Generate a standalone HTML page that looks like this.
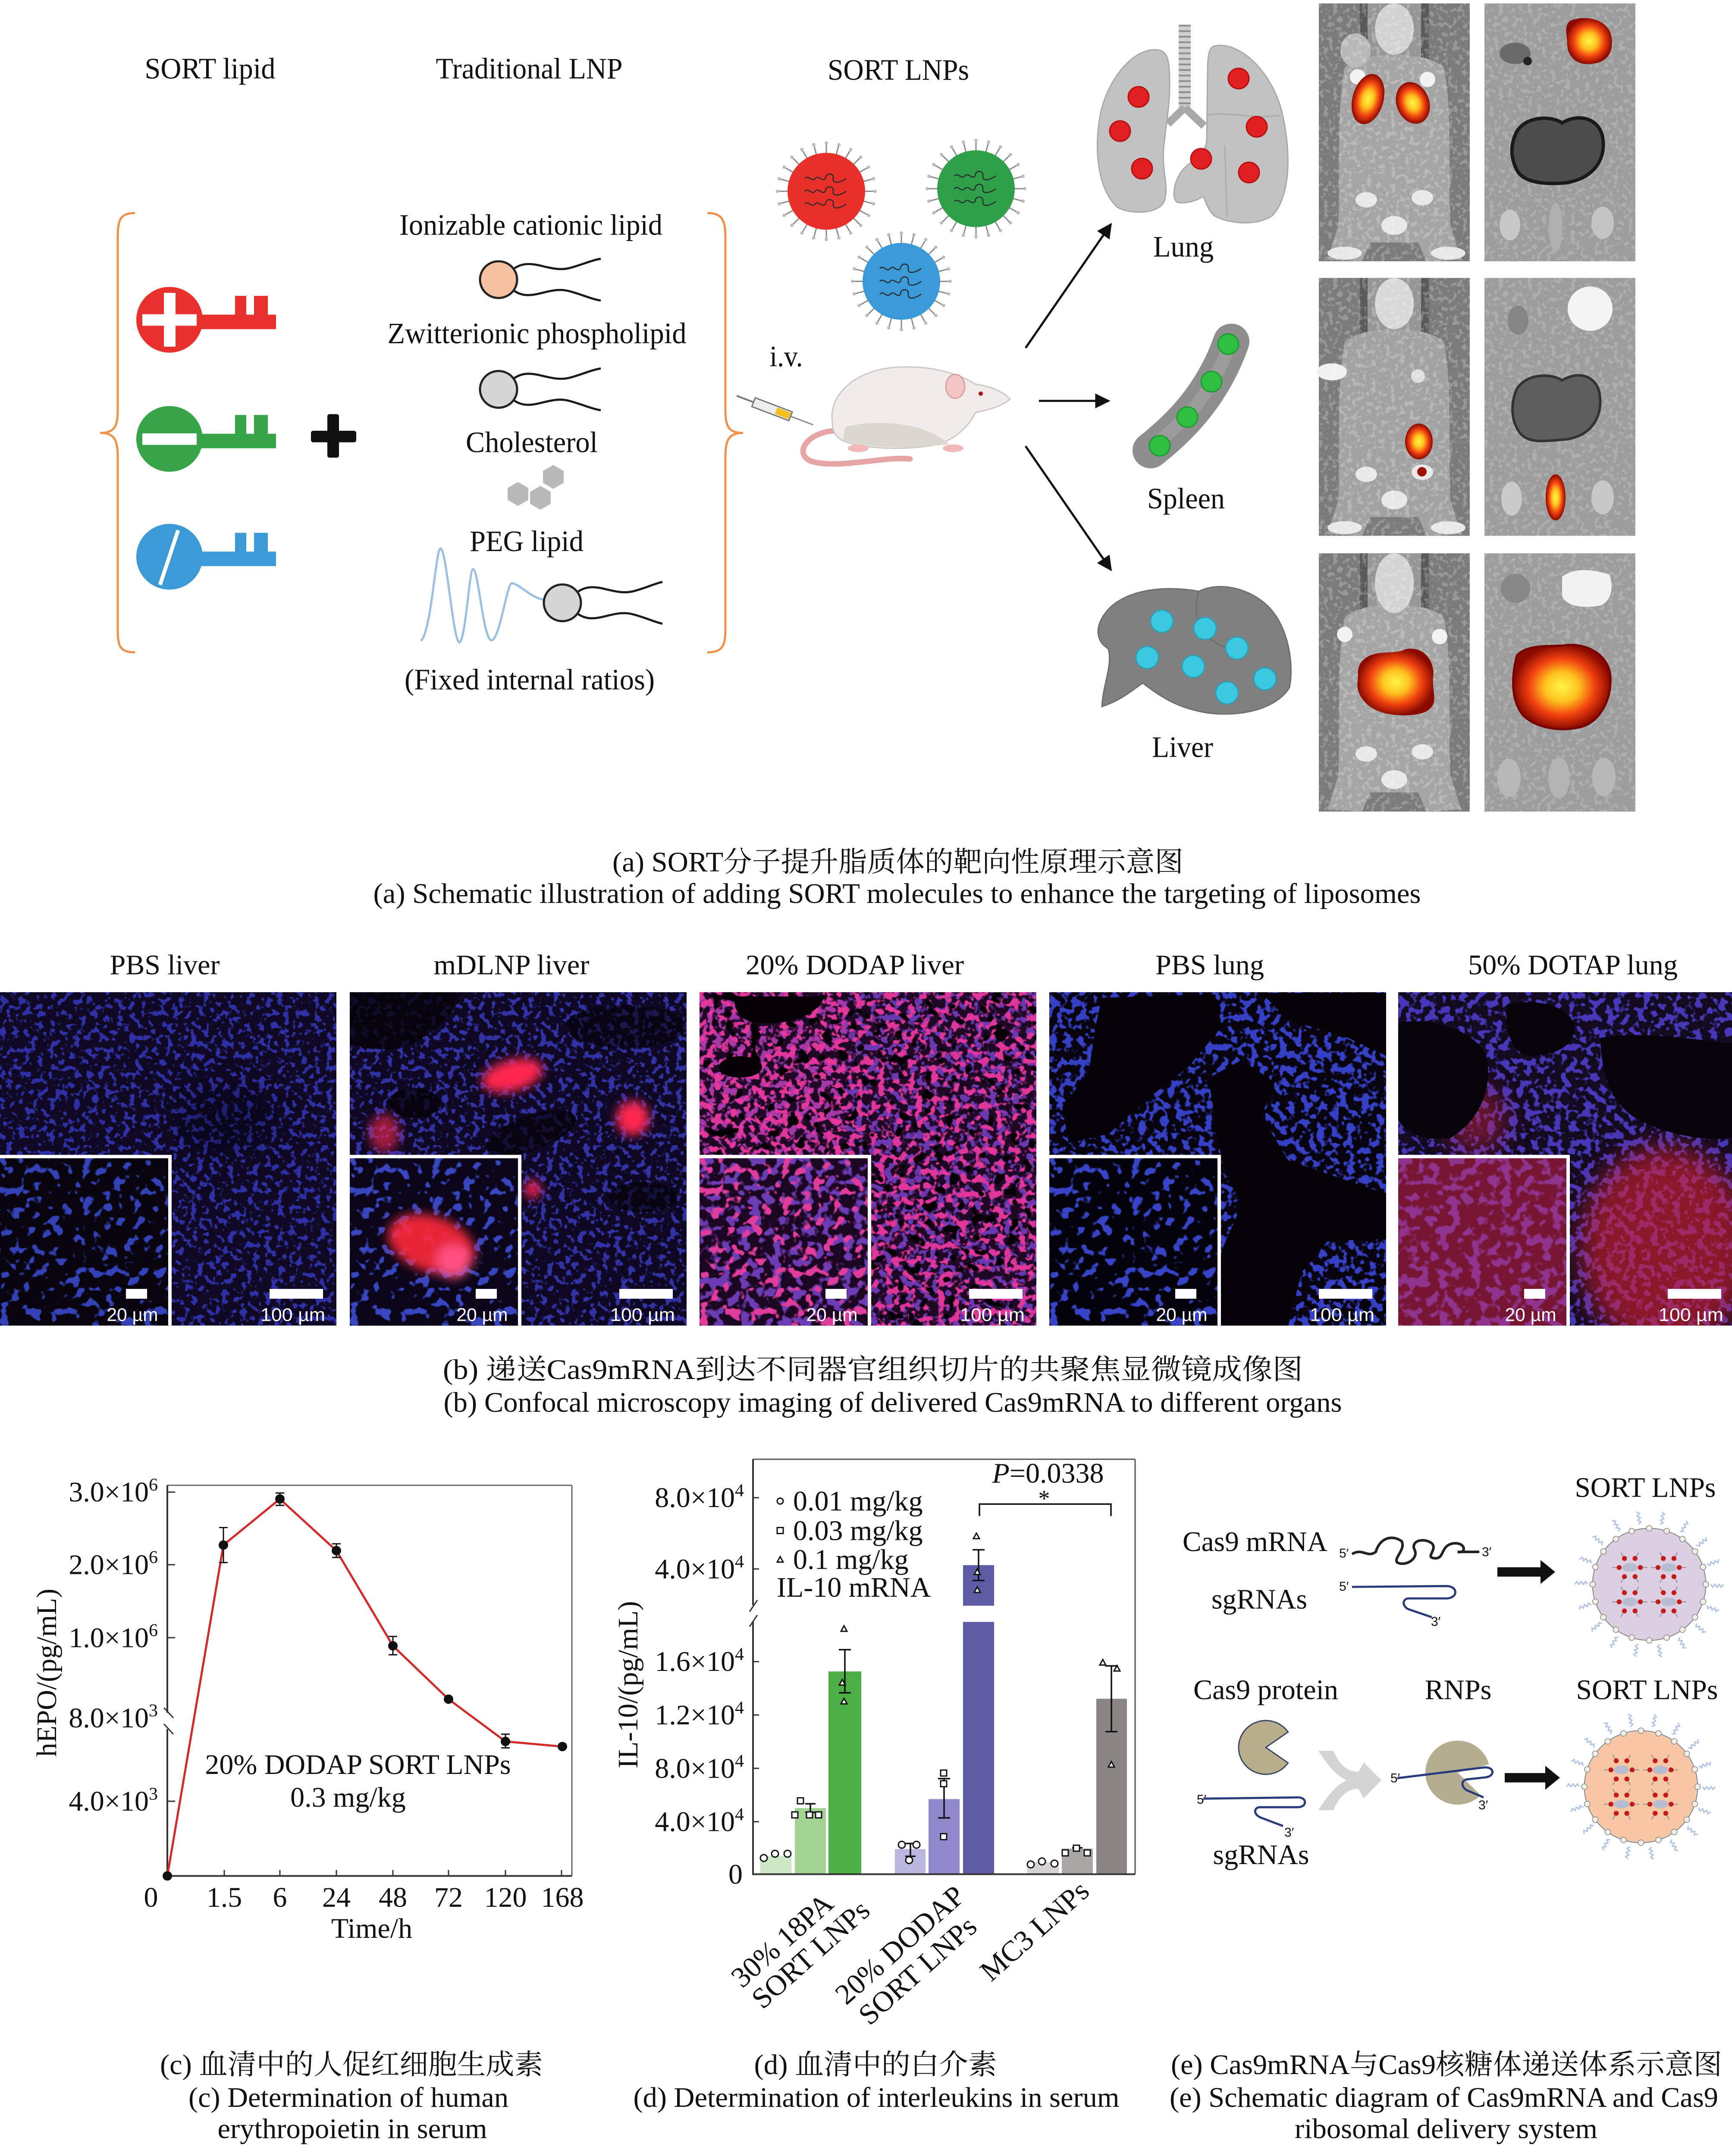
<!DOCTYPE html>
<html><head><meta charset="utf-8">
<style>
html,body{margin:0;padding:0;background:#fff;width:100%;height:100%;overflow:hidden;}
svg.root{display:block;width:100%;height:100%;}
text{font-family:"Liberation Serif","Noto Serif CJK SC",serif;fill:#111;}
</style></head><body>
<svg class="root" xmlns="http://www.w3.org/2000/svg" viewBox="0 0 4016 5050" preserveAspectRatio="none">
<defs>
<filter id="nS" x="0" y="0" width="1" height="1" color-interpolation-filters="sRGB">
<feTurbulence type="fractalNoise" baseFrequency="0.07" numOctaves="2" seed="3" result="t"/>
<feColorMatrix in="t" type="matrix" values="0 0 0 0 0 0 0 0 0 0 0 0 0 0 0 10 0 0 0 -5.35" result="m"/>
<feComposite in="SourceGraphic" in2="m" operator="in"/>
</filter>
<filter id="nA" x="0" y="0" width="1" height="1" color-interpolation-filters="sRGB">
<feTurbulence type="fractalNoise" baseFrequency="0.058" numOctaves="2" seed="3" result="t"/>
<feColorMatrix in="t" type="matrix" values="0 0 0 0 0 0 0 0 0 0 0 0 0 0 0 10 0 0 0 -4.95" result="m"/>
<feComposite in="SourceGraphic" in2="m" operator="in"/>
</filter>
<filter id="nB" x="0" y="0" width="1" height="1" color-interpolation-filters="sRGB">
<feTurbulence type="fractalNoise" baseFrequency="0.058" numOctaves="2" seed="11" result="t"/>
<feColorMatrix in="t" type="matrix" values="0 0 0 0 0 0 0 0 0 0 0 0 0 0 0 10 0 0 0 -5.2" result="m"/>
<feComposite in="SourceGraphic" in2="m" operator="in"/>
</filter>
<filter id="nL" x="0" y="0" width="1" height="1" color-interpolation-filters="sRGB">
<feTurbulence type="fractalNoise" baseFrequency="0.042" numOctaves="2" seed="5" result="t"/>
<feColorMatrix in="t" type="matrix" values="0 0 0 0 0 0 0 0 0 0 0 0 0 0 0 12 0 0 0 -6.8" result="m"/>
<feComposite in="SourceGraphic" in2="m" operator="in"/>
</filter>
<filter id="nL2" x="0" y="0" width="1" height="1" color-interpolation-filters="sRGB">
<feTurbulence type="fractalNoise" baseFrequency="0.042" numOctaves="2" seed="8" result="t"/>
<feColorMatrix in="t" type="matrix" values="0 0 0 0 0 0 0 0 0 0 0 0 0 0 0 10 0 0 0 -5.0" result="m"/>
<feComposite in="SourceGraphic" in2="m" operator="in"/>
</filter>
<filter id="nH" x="0" y="0" width="1" height="1" color-interpolation-filters="sRGB">
<feTurbulence type="fractalNoise" baseFrequency="0.035" numOctaves="2" seed="6" result="t"/>
<feColorMatrix in="t" type="matrix" values="0 0 0 0 0 0 0 0 0 0 0 0 0 0 0 12 0 0 0 -7.3" result="m"/>
<feComposite in="SourceGraphic" in2="m" operator="in"/>
</filter>
<filter id="gr" x="0" y="0" width="1" height="1" color-interpolation-filters="sRGB">
<feTurbulence type="fractalNoise" baseFrequency="0.09" numOctaves="2" seed="4" result="t"/>
<feColorMatrix in="t" type="matrix" values="0 0 0 0 0 0 0 0 0 0 0 0 0 0 0 8 0 0 0 -4.2" result="m"/>
<feComposite in="SourceGraphic" in2="m" operator="in"/>
</filter>
<filter id="b12" x="-50%" y="-50%" width="200%" height="200%"><feGaussianBlur stdDeviation="12"/></filter>
<filter id="b30" x="-50%" y="-50%" width="200%" height="200%"><feGaussianBlur stdDeviation="30"/></filter>
<radialGradient id="heat"><stop offset="0" stop-color="#fff64a"/><stop offset="0.35" stop-color="#ffc21e"/><stop offset="0.68" stop-color="#f04010"/><stop offset="1" stop-color="#8a0a00"/></radialGradient>
<marker id="ah" viewBox="0 0 10 10" refX="9" refY="5" markerWidth="7" markerHeight="7" orient="auto"><path d="M0,0 L10,5 L0,10 z" fill="#111"/></marker>
<g id="spk1"><line x1="0" y1="-88" x2="0" y2="-112" stroke="#8a8a8a" stroke-width="3"/><circle cy="-113" r="4" fill="#bdbdbd"/></g>
<g id="spikes">
<use href="#spk1"/><use href="#spk1" transform="rotate(15)"/><use href="#spk1" transform="rotate(30)"/><use href="#spk1" transform="rotate(45)"/><use href="#spk1" transform="rotate(60)"/><use href="#spk1" transform="rotate(75)"/><use href="#spk1" transform="rotate(90)"/><use href="#spk1" transform="rotate(105)"/><use href="#spk1" transform="rotate(120)"/><use href="#spk1" transform="rotate(135)"/><use href="#spk1" transform="rotate(150)"/><use href="#spk1" transform="rotate(165)"/><use href="#spk1" transform="rotate(180)"/><use href="#spk1" transform="rotate(195)"/><use href="#spk1" transform="rotate(210)"/><use href="#spk1" transform="rotate(225)"/><use href="#spk1" transform="rotate(240)"/><use href="#spk1" transform="rotate(255)"/><use href="#spk1" transform="rotate(270)"/><use href="#spk1" transform="rotate(285)"/><use href="#spk1" transform="rotate(300)"/><use href="#spk1" transform="rotate(315)"/><use href="#spk1" transform="rotate(330)"/><use href="#spk1" transform="rotate(345)"/>
</g>
<g id="rnaIn" fill="none" stroke="#2a2a2a" stroke-width="2.5">
<path d="M-50,-30 c8,-10 16,10 24,0 s16,10 24,0 c0,-14 20,-14 18,0 s16,10 30,0"/>
<path d="M-50,0 c8,-10 16,10 24,0 s16,10 24,0 c0,-14 20,-14 18,0 s16,10 30,0"/>
<path d="M-50,30 c8,-10 16,10 24,0 s16,10 24,0 c0,-14 20,-14 18,0 s16,10 30,0"/>
</g>
<g id="eSp"><path d="M0,-174 l8,-6 l-8,-6 l8,-6 l-8,-6 l8,-6 l-8,-6" fill="none" stroke="#b4c6e2" stroke-width="4"/></g>
<g id="eBd"><circle cy="-160" r="8" fill="#f2eee8" stroke="#8c8c8c" stroke-width="2"/></g>
<g id="eShell">
<circle r="160" fill="none" stroke="#8e8e8e" stroke-width="3"/>
<use href="#eSp" transform="rotate(10)"/><use href="#eSp" transform="rotate(30)"/><use href="#eSp" transform="rotate(50)"/><use href="#eSp" transform="rotate(70)"/><use href="#eSp" transform="rotate(90)"/><use href="#eSp" transform="rotate(110)"/><use href="#eSp" transform="rotate(130)"/><use href="#eSp" transform="rotate(150)"/><use href="#eSp" transform="rotate(170)"/><use href="#eSp" transform="rotate(190)"/><use href="#eSp" transform="rotate(210)"/><use href="#eSp" transform="rotate(230)"/><use href="#eSp" transform="rotate(250)"/><use href="#eSp" transform="rotate(270)"/><use href="#eSp" transform="rotate(290)"/><use href="#eSp" transform="rotate(310)"/><use href="#eSp" transform="rotate(330)"/><use href="#eSp" transform="rotate(350)"/>
<use href="#eBd"/><use href="#eBd" transform="rotate(18)"/><use href="#eBd" transform="rotate(36)"/><use href="#eBd" transform="rotate(54)"/><use href="#eBd" transform="rotate(72)"/><use href="#eBd" transform="rotate(90)"/><use href="#eBd" transform="rotate(108)"/><use href="#eBd" transform="rotate(126)"/><use href="#eBd" transform="rotate(144)"/><use href="#eBd" transform="rotate(162)"/><use href="#eBd" transform="rotate(180)"/><use href="#eBd" transform="rotate(198)"/><use href="#eBd" transform="rotate(216)"/><use href="#eBd" transform="rotate(234)"/><use href="#eBd" transform="rotate(252)"/><use href="#eBd" transform="rotate(270)"/><use href="#eBd" transform="rotate(288)"/><use href="#eBd" transform="rotate(306)"/><use href="#eBd" transform="rotate(324)"/><use href="#eBd" transform="rotate(342)"/>
</g>
<g id="eCl">
<g stroke="#8f8f9c" stroke-width="2.5"><line x1="30" y1="0" x2="50" y2="0"/><line x1="-30" y1="0" x2="-50" y2="0"/><line x1="15" y1="26" x2="25" y2="43"/><line x1="-15" y1="26" x2="-25" y2="43"/><line x1="15" y1="-26" x2="25" y2="-43"/><line x1="-15" y1="-26" x2="-25" y2="-43"/></g>
<ellipse rx="22" ry="12" fill="#b8bcd0"/>
<g fill="#c41a1a"><circle cx="30" cy="0" r="7"/><circle cx="15" cy="26" r="7"/><circle cx="-15" cy="26" r="7"/><circle cx="-30" cy="0" r="7"/><circle cx="-15" cy="-26" r="7"/><circle cx="15" cy="-26" r="7"/></g>
</g>
</defs>
<rect width="4016" height="5050" fill="#fff"/>

<!-- ================= PART (a) ================= -->
<g font-size="70" text-anchor="middle">
<text x="487" y="184" textLength="303" lengthAdjust="spacingAndGlyphs">SORT lipid</text>
<text x="1227" y="184" textLength="433" lengthAdjust="spacingAndGlyphs">Traditional LNP</text>
<text x="2083" y="187" textLength="328" lengthAdjust="spacingAndGlyphs">SORT LNPs</text>
<text x="1231" y="550" textLength="610" lengthAdjust="spacingAndGlyphs">Ionizable cationic lipid</text>
<text x="1245" y="804" textLength="693" lengthAdjust="spacingAndGlyphs">Zwitterionic phospholipid</text>
<text x="1233" y="1059" textLength="306" lengthAdjust="spacingAndGlyphs">Cholesterol</text>
<text x="1221" y="1291" textLength="264" lengthAdjust="spacingAndGlyphs">PEG lipid</text>
<text x="1228" y="1615" textLength="580" lengthAdjust="spacingAndGlyphs">(Fixed internal ratios)</text>
<text x="1823" y="858" textLength="77" lengthAdjust="spacingAndGlyphs">i.v.</text>
<text x="2744" y="601" textLength="140" lengthAdjust="spacingAndGlyphs">Lung</text>
<text x="2750" y="1191" textLength="180" lengthAdjust="spacingAndGlyphs">Spleen</text>
<text x="2742" y="1773" textLength="142" lengthAdjust="spacingAndGlyphs">Liver</text>
</g>

<path d="M313,499 C275,499 273,520 273,560 L273,960 C273,1000 265,1014 232,1014 C265,1014 273,1030 273,1070 L273,1470 C273,1510 275,1528 313,1528" fill="none" stroke="#f0914a" stroke-width="5"/>
<path d="M1640,499 C1678,499 1682,520 1682,560 L1682,960 C1682,1000 1690,1014 1723,1014 C1690,1014 1682,1030 1682,1070 L1682,1470 C1682,1510 1678,1528 1640,1528" fill="none" stroke="#f0914a" stroke-width="5"/>

<g transform="translate(393,749)" fill="#e8302c">
<circle r="77"/><rect x="50" y="-12" width="197" height="34"/><rect x="152" y="-56" width="26" height="50"/><rect x="196" y="-56" width="32" height="50"/>
<rect x="-63" y="-13" width="126" height="27" fill="#fff"/><rect x="-13" y="-63" width="27" height="126" fill="#fff"/>
</g>
<g transform="translate(393,1028)" fill="#35a548">
<circle r="77"/><rect x="50" y="-12" width="197" height="34"/><rect x="152" y="-56" width="26" height="50"/><rect x="196" y="-56" width="32" height="50"/>
<rect x="-63" y="-13" width="126" height="27" fill="#fff"/>
</g>
<g transform="translate(393,1304)" fill="#3b9ad6">
<circle r="77"/><rect x="50" y="-12" width="197" height="34"/><rect x="152" y="-56" width="26" height="50"/><rect x="196" y="-56" width="32" height="50"/>
<line x1="-22" y1="66" x2="20" y2="-62" stroke="#fff" stroke-width="9"/>
</g>
<g fill="#111"><rect x="721" y="1009" width="105" height="27" rx="5"/><rect x="759" y="970" width="27" height="102" rx="5"/></g>

<g fill="none" stroke="#1a1a1a" stroke-width="5">
<path d="M1188,632 C1230,598 1270,640 1320,628 C1350,620 1370,610 1393,606"/>
<path d="M1188,678 C1230,712 1270,668 1320,682 C1350,690 1370,700 1393,704"/>
<path d="M1188,889 C1230,855 1270,897 1320,885 C1350,877 1370,867 1393,863"/>
<path d="M1188,935 C1230,969 1270,925 1320,939 C1350,947 1370,957 1393,961"/>
<path d="M1336,1389 C1378,1355 1418,1397 1468,1385 C1498,1377 1518,1367 1536,1363"/>
<path d="M1336,1435 C1378,1469 1418,1425 1468,1439 C1498,1447 1518,1457 1536,1461"/>
</g>
<circle cx="1156" cy="655" r="43" fill="#f6c1a0" stroke="#222" stroke-width="5"/>
<circle cx="1156" cy="912" r="43" fill="#d6d6d6" stroke="#222" stroke-width="5"/>
<path d="M976,1501 C1000,1480 1010,1290 1021,1285 C1035,1280 1050,1500 1065,1505 C1080,1500 1088,1333 1097,1333 C1110,1335 1120,1500 1140,1500 C1160,1495 1175,1366 1187,1366 C1205,1368 1230,1400 1262,1405" fill="none" stroke="#9cc0e2" stroke-width="5"/>
<circle cx="1304" cy="1412" r="43" fill="#d6d6d6" stroke="#222" stroke-width="5"/>
<g fill="#b9b9b9">
<polygon points="1201,1129 1225,1143 1225,1171 1201,1185 1177,1171 1177,1143"/>
<polygon points="1253,1138 1277,1152 1277,1180 1253,1194 1229,1180 1229,1152"/>
<polygon points="1283,1089 1307,1103 1307,1131 1283,1145 1259,1131 1259,1103"/>
</g>

<g transform="translate(1916,448)"><use href="#spikes"/><circle r="90" fill="#e8302a"/><use href="#rnaIn"/></g>
<g transform="translate(2263,442)"><use href="#spikes"/><circle r="90" fill="#2fa04a"/><use href="#rnaIn"/></g>
<g transform="translate(2090,659)"><use href="#spikes"/><circle r="90" fill="#3a9ad8"/><use href="#rnaIn"/></g>

<path d="M1960,1010 C1880,1000 1835,1060 1880,1080 C1940,1100 2050,1068 2110,1075" fill="none" stroke="#e6a6a6" stroke-width="13" stroke-linecap="round"/>
<path d="M1930,990 C1920,920 1990,865 2080,860 C2170,855 2230,880 2262,900 C2300,905 2330,920 2342,935 C2322,952 2292,960 2262,966 C2240,1010 2200,1040 2150,1045 C2080,1055 1990,1050 1950,1030 C1935,1020 1930,1005 1930,990 Z" fill="#efece9" stroke="#cdc8c3" stroke-width="3"/>
<path d="M1960,1000 C2000,990 2060,985 2120,1000 C2160,1010 2190,1030 2200,1040 C2120,1052 2000,1050 1955,1030 Z" fill="#dcd6d0"/>
<ellipse cx="2215" cy="905" rx="22" ry="28" fill="#f2c4c4" stroke="#d9a0a0" stroke-width="3"/>
<circle cx="2274" cy="922" r="5" fill="#b01010"/>
<ellipse cx="1990" cy="1050" rx="24" ry="9" fill="#f0b8b8"/>
<ellipse cx="2210" cy="1050" rx="24" ry="9" fill="#f0b8b8"/>
<g transform="translate(1708,927) rotate(21)">
<line x1="0" y1="0" x2="42" y2="0" stroke="#777" stroke-width="4"/>
<rect x="42" y="-11" width="92" height="22" fill="#eeeeee" stroke="#777" stroke-width="3"/>
<rect x="98" y="-8" width="34" height="16" fill="#f0c020"/>
<line x1="134" y1="0" x2="190" y2="0" stroke="#888" stroke-width="3"/>
</g>

<g stroke="#111" stroke-width="5" marker-end="url(#ah)">
<line x1="2378" y1="815" x2="2576" y2="525"/>
<line x1="2409" y1="939" x2="2571" y2="939"/>
<line x1="2378" y1="1045" x2="2576" y2="1335"/>
</g>

<line x1="2747" y1="58" x2="2747" y2="258" stroke="#cfcfcf" stroke-width="28"/>
<line x1="2747" y1="58" x2="2747" y2="258" stroke="#8e8e8e" stroke-width="28" stroke-dasharray="4 9"/>
<path d="M2747,252 L2708,290 M2747,252 L2792,295" stroke="#a8a8a8" stroke-width="18" fill="none"/>
<path d="M2690,118 C2640,105 2575,170 2553,260 C2535,350 2545,440 2590,485 C2625,505 2690,500 2700,470 C2712,430 2690,400 2700,330 C2705,280 2712,250 2712,200 C2712,150 2710,125 2690,118 Z" fill="#c2c2c2" stroke="#a9a9a9" stroke-width="3"/>
<path d="M2815,108 C2870,95 2945,160 2972,260 C2995,360 2992,460 2950,505 C2915,530 2850,525 2815,505 C2800,490 2795,470 2790,460 C2775,470 2750,478 2730,474 C2715,465 2722,420 2745,395 C2770,370 2795,360 2798,330 L2800,170 C2800,135 2802,112 2815,108 Z" fill="#c2c2c2" stroke="#a9a9a9" stroke-width="3"/>
<path d="M2800,270 C2850,260 2900,280 2970,270 M2840,340 L2845,510" stroke="#ababab" stroke-width="3" fill="none"/>
<g fill="#e02020" stroke="#b81010" stroke-width="3">
<circle cx="2640" cy="227" r="24"/><circle cx="2597" cy="307" r="24"/><circle cx="2648" cy="395" r="24"/><circle cx="2872" cy="184" r="24"/><circle cx="2914" cy="297" r="24"/><circle cx="2785" cy="372" r="24"/><circle cx="2896" cy="404" r="24"/>
</g>
<path d="M2668,1055 C2730,1005 2810,930 2855,800" fill="none" stroke="#8e8e8e" stroke-width="84" stroke-linecap="round"/>
<path d="M2690,1030 C2750,985 2810,920 2850,810" fill="none" stroke="#9c9c9c" stroke-width="30" stroke-linecap="round"/>
<g fill="#2ec040" stroke="#1f9a2e" stroke-width="3"><circle cx="2848" cy="806" r="24"/><circle cx="2809" cy="894" r="24"/><circle cx="2753" cy="977" r="24"/><circle cx="2689" cy="1044" r="24"/></g>
<path d="M2560,1440 C2600,1380 2700,1370 2780,1385 C2830,1360 2900,1380 2940,1420 C2990,1470 3000,1560 2990,1610 C2960,1660 2880,1680 2800,1670 C2740,1660 2700,1640 2650,1600 C2620,1620 2600,1640 2555,1655 C2558,1600 2580,1560 2570,1520 C2540,1500 2540,1470 2560,1440 Z" fill="#808080" stroke="#6e6e6e" stroke-width="3"/>
<path d="M2780,1385 C2760,1450 2790,1500 2850,1520" fill="none" stroke="#6e6e6e" stroke-width="3"/>
<g fill="#3cc8e0" stroke="#2aa0b8" stroke-width="3"><circle cx="2694" cy="1455" r="26"/><circle cx="2794" cy="1472" r="26"/><circle cx="2660" cy="1540" r="26"/><circle cx="2868" cy="1518" r="26"/><circle cx="2767" cy="1561" r="26"/><circle cx="2933" cy="1590" r="26"/><circle cx="2845" cy="1623" r="26"/></g>

<!-- IVIS row 1 -->
<g transform="translate(3058,8)">
<rect width="350" height="604" fill="#7b7b7b"/>
<rect x="95" y="0" width="160" height="130" fill="#969696"/><rect x="95" y="0" width="18" height="130" fill="#5a5a5a"/><rect x="237" y="0" width="18" height="130" fill="#5a5a5a"/>
<path d="M60,150 C40,250 50,400 45,520 L20,600 L100,604 L120,560 L230,560 L250,604 L330,600 L305,520 C300,400 310,250 290,150 C250,110 100,110 60,150 Z" fill="#a5a5a5"/>
<ellipse cx="175" cy="60" rx="45" ry="60" fill="#d2d2d2"/>
<ellipse cx="85" cy="110" rx="35" ry="40" fill="#b8b8b8"/>
<circle cx="90" cy="172" r="18" fill="#f2f2f2"/><circle cx="252" cy="178" r="18" fill="#f2f2f2"/>
<g fill="#e8e8e8"><ellipse cx="110" cy="460" rx="25" ry="18"/><ellipse cx="240" cy="455" rx="25" ry="18"/><ellipse cx="175" cy="520" rx="30" ry="22"/><ellipse cx="60" cy="585" rx="40" ry="15"/><ellipse cx="300" cy="585" rx="40" ry="15"/></g>
<rect width="350" height="604" fill="#fff" filter="url(#gr)" opacity="0.22"/>
<ellipse cx="114" cy="224" rx="36" ry="60" transform="rotate(15 114 224)" fill="url(#heat)"/>
<ellipse cx="218" cy="233" rx="38" ry="50" transform="rotate(-20 218 233)" fill="url(#heat)"/>
</g>
<g transform="translate(3442,8)">
<rect width="350" height="604" fill="#9d9d9d"/>
<rect width="350" height="604" fill="#fff" filter="url(#gr)" opacity="0.18"/>
<ellipse cx="71" cy="117" rx="36" ry="25" fill="#6a6a6a"/><circle cx="100" cy="135" r="10" fill="#222"/>
<path d="M200,40 C240,25 290,40 295,80 C300,120 280,140 245,142 C210,145 190,120 192,90 C190,70 185,50 200,40 Z" fill="url(#heat)"/>
<path d="M75,300 C100,260 160,265 180,280 C220,255 270,270 275,320 C280,370 250,410 190,420 C140,425 90,420 75,390 C60,360 60,330 75,300 Z" fill="#4c4c4c" stroke="#1a1a1a" stroke-width="8"/>
<ellipse cx="59" cy="519" rx="24" ry="36" fill="#c8c8c8"/><ellipse cx="165" cy="524" rx="16" ry="58" fill="#b0b0b0"/><ellipse cx="274" cy="514" rx="26" ry="38" fill="#c4c4c4"/>
</g>
<!-- row 2 -->
<g transform="translate(3058,651)">
<rect width="350" height="604" fill="#7b7b7b"/>
<rect x="95" y="0" width="160" height="130" fill="#969696"/><rect x="95" y="0" width="18" height="130" fill="#5a5a5a"/><rect x="237" y="0" width="18" height="130" fill="#5a5a5a"/>
<path d="M60,150 C40,250 50,400 45,520 L20,600 L100,604 L120,560 L230,560 L250,604 L330,600 L305,520 C300,400 310,250 290,150 C250,110 100,110 60,150 Z" fill="#a2a2a2"/>
<ellipse cx="175" cy="60" rx="45" ry="60" fill="#d8d8d8"/>
<ellipse cx="30" cy="220" rx="35" ry="20" fill="#f0f0f0"/><circle cx="230" cy="230" r="16" fill="#e0e0e0"/>
<g fill="#e8e8e8"><ellipse cx="110" cy="460" rx="25" ry="18"/><ellipse cx="240" cy="455" rx="25" ry="18"/><ellipse cx="175" cy="520" rx="30" ry="22"/><ellipse cx="60" cy="585" rx="40" ry="15"/><ellipse cx="300" cy="585" rx="40" ry="15"/></g>
<rect width="350" height="604" fill="#fff" filter="url(#gr)" opacity="0.22"/>
<ellipse cx="232" cy="383" rx="32" ry="42" fill="url(#heat)"/>
<circle cx="239" cy="454" r="11" fill="#a01000"/>
</g>
<g transform="translate(3442,651)">
<rect width="350" height="604" fill="#9d9d9d"/>
<rect width="350" height="604" fill="#fff" filter="url(#gr)" opacity="0.18"/>
<ellipse cx="78" cy="99" rx="24" ry="34" fill="#858585"/>
<circle cx="245" cy="72" r="52" fill="#f4f4f4"/>
<path d="M75,260 C100,220 160,225 180,240 C220,215 265,230 268,280 C272,330 245,370 190,378 C140,382 100,390 80,360 C60,330 62,290 75,260 Z" fill="#5e5e5e" stroke="#333" stroke-width="6"/>
<ellipse cx="63" cy="517" rx="24" ry="40" fill="#cacaca"/><ellipse cx="165" cy="514" rx="23" ry="54" fill="url(#heat)"/><ellipse cx="274" cy="514" rx="26" ry="40" fill="#c8c8c8"/>
</g>
<!-- row 3 -->
<g transform="translate(3058,1296)">
<rect width="350" height="605" fill="#7b7b7b"/>
<rect x="95" y="0" width="160" height="150" fill="#969696"/><rect x="95" y="0" width="18" height="150" fill="#5a5a5a"/><rect x="237" y="0" width="18" height="150" fill="#5a5a5a"/>
<path d="M60,150 C40,250 50,400 45,520 L20,600 L100,605 L120,560 L230,560 L250,605 L330,600 L305,520 C300,400 310,250 290,150 C250,110 100,110 60,150 Z" fill="#a5a5a5"/>
<ellipse cx="175" cy="70" rx="45" ry="70" fill="#d4d4d4"/>
<circle cx="60" cy="190" r="18" fill="#f2f2f2"/><circle cx="280" cy="195" r="18" fill="#f2f2f2"/>
<g fill="#e8e8e8"><ellipse cx="110" cy="470" rx="25" ry="18"/><ellipse cx="240" cy="465" rx="25" ry="18"/><ellipse cx="175" cy="530" rx="30" ry="22"/></g>
<rect width="350" height="605" fill="#fff" filter="url(#gr)" opacity="0.22"/>
<path d="M95,260 C120,220 170,240 200,225 C240,215 270,250 265,290 C262,330 280,350 250,370 C220,385 160,380 140,370 C110,360 85,330 90,300 C92,285 88,275 95,260 Z" fill="url(#heat)"/>
</g>
<g transform="translate(3442,1296)">
<rect width="350" height="605" fill="#9d9d9d"/>
<rect width="350" height="605" fill="#fff" filter="url(#gr)" opacity="0.18"/>
<circle cx="72" cy="82" r="34" fill="#878787"/>
<path d="M180,55 C210,30 260,40 290,50 C300,80 295,110 270,122 C230,130 190,125 180,100 Z" fill="#f2f2f2"/>
<path d="M75,240 C100,210 160,220 190,215 C240,210 290,240 292,290 C295,340 270,390 230,405 C180,420 120,410 90,380 C65,350 60,300 75,240 Z" fill="url(#heat)" stroke="#700" stroke-width="5"/>
<ellipse cx="57" cy="526" rx="27" ry="45" fill="#b8b8b8"/><ellipse cx="173" cy="526" rx="25" ry="48" fill="#b4b4b4"/><ellipse cx="277" cy="524" rx="27" ry="45" fill="#b8b8b8"/>
</g>

<g font-size="66" text-anchor="middle">
<text x="2082" y="2041" textLength="1324" lengthAdjust="spacingAndGlyphs">(a) SORT分子提升脂质体的靶向性原理示意图</text>
<text x="2080" y="2115" textLength="2429" lengthAdjust="spacingAndGlyphs">(a) Schematic illustration of adding SORT molecules to enhance the targeting of liposomes</text>
</g>

<!-- ================= PART (b) ================= -->
<g font-size="66" text-anchor="middle">
<text x="382" y="2282" textLength="255" lengthAdjust="spacingAndGlyphs">PBS liver</text>
<text x="1186" y="2282" textLength="361" lengthAdjust="spacingAndGlyphs">mDLNP liver</text>
<text x="1982" y="2282" textLength="506" lengthAdjust="spacingAndGlyphs">20% DODAP liver</text>
<text x="2805" y="2282" textLength="252" lengthAdjust="spacingAndGlyphs">PBS lung</text>
<text x="3647" y="2282" textLength="486" lengthAdjust="spacingAndGlyphs">50% DOTAP lung</text>
</g>

<svg x="0" y="2324" width="780" height="781">
<rect width="780" height="781" fill="#0f0924"/>
<rect width="780" height="781" fill="#3030a6" filter="url(#nS)"/>
<ellipse cx="520" cy="300" rx="120" ry="80" fill="#05030c" opacity="0.35" filter="url(#b30)"/>
<rect x="0" y="381" width="398" height="400" fill="#08050f"/>
<rect x="0" y="381" width="398" height="400" fill="#3442b8" filter="url(#nL)"/>
<path d="M0,385 L394,385 L394,781" fill="none" stroke="#fff" stroke-width="8"/>
</svg>
<svg x="811" y="2324" width="781" height="781">
<rect width="781" height="781" fill="#0e0822"/>
<rect width="781" height="781" fill="#3232a4" filter="url(#nS)"/>
<path d="M0,0 L260,0 C240,60 180,110 120,130 C80,140 30,130 0,120 Z" fill="#050208" opacity="0.8"/>
<ellipse cx="150" cy="260" rx="60" ry="35" fill="#050208" opacity="0.75"/>
<ellipse cx="420" cy="330" rx="110" ry="40" transform="rotate(-20 420 330)" fill="#050208" opacity="0.7"/>
<ellipse cx="640" cy="80" rx="140" ry="50" fill="#050208" opacity="0.55"/>
<ellipse cx="680" cy="480" rx="80" ry="35" fill="#050208" opacity="0.65"/>
<g fill="#ff2850" filter="url(#b12)">
<ellipse cx="377" cy="195" rx="72" ry="36" transform="rotate(-15 377 195)"/>
<ellipse cx="656" cy="295" rx="38" ry="40"/>
<ellipse cx="424" cy="462" rx="18" ry="20"/>
<ellipse cx="80" cy="330" rx="35" ry="45" opacity="0.6"/>
</g>
<rect x="0" y="381" width="398" height="400" fill="#0a0518"/>
<rect x="0" y="381" width="398" height="400" fill="#3846c0" filter="url(#nL)"/>
<g filter="url(#b12)"><ellipse cx="190" cy="590" rx="105" ry="65" transform="rotate(20 190 590)" fill="#ff2a3a" opacity="0.9"/><circle cx="240" cy="630" r="40" fill="#ff5080"/></g>
<path d="M0,385 L394,385 L394,781" fill="none" stroke="#fff" stroke-width="8"/>
</svg>
<svg x="1622" y="2324" width="781" height="781">
<rect width="781" height="781" fill="#1e0824"/>
<rect width="781" height="781" fill="#6a38b0" filter="url(#nA)"/>
<rect width="781" height="781" fill="#e0369a" filter="url(#nB)"/>
<rect width="340" height="781" fill="#f038a0" filter="url(#nA)" opacity="0.45"/>
<rect width="781" height="781" fill="#050105" filter="url(#nH)"/>
<path d="M80,10 L290,10 C270,60 200,80 120,70 C90,60 80,40 80,10 Z" fill="#050105"/>
<ellipse cx="95" cy="175" rx="50" ry="25" fill="#050105"/>
<rect x="0" y="381" width="398" height="400" fill="#1a0620"/>
<rect x="0" y="381" width="398" height="400" fill="#6c3cb4" filter="url(#nL2)"/>
<rect x="0" y="381" width="398" height="400" fill="#e03c9c" filter="url(#nL)"/>
<path d="M0,385 L394,385 L394,781" fill="none" stroke="#fff" stroke-width="8"/>
</svg>
<svg x="2433" y="2324" width="781" height="781">
<rect width="781" height="781" fill="#07040f"/>
<rect width="781" height="781" fill="#3640c4" filter="url(#nA)"/>
<g fill="#050308">
<path d="M122,13 L384,5 L400,81 L323,175 L230,248 L138,332 L45,353 L30,269 L92,185 L107,81 Z"/>
<path d="M492,2 L781,2 L781,149 L693,107 L554,65 Z"/>
<path d="M369,201 L446,159 L523,211 L492,290 L554,394 L708,447 L781,473 L781,577 L646,583 L585,656 L554,781 L384,781 L400,604 L446,499 L400,394 Z"/>
</g>
<rect x="0" y="381" width="398" height="400" fill="#04020a"/>
<rect x="0" y="381" width="398" height="400" fill="#3844c8" filter="url(#nL)"/>
<path d="M0,385 L394,385 L394,781" fill="none" stroke="#fff" stroke-width="8"/>
</svg>
<svg x="3242" y="2324" width="774" height="781">
<rect width="774" height="781" fill="#120a1e"/>
<rect width="774" height="781" fill="#4638b8" filter="url(#nA)"/>
<ellipse cx="620" cy="600" rx="200" ry="240" fill="#d82030" opacity="0.6" filter="url(#b30)"/>
<ellipse cx="180" cy="300" rx="70" ry="80" fill="#c02040" opacity="0.5" filter="url(#b30)"/>
<g fill="#06030a">
<path d="M6,70 C80,60 190,90 207,160 C215,230 190,300 120,342 C60,350 20,330 0,300 L0,80 Z"/>
<path d="M253,28 C320,15 400,30 408,80 C410,130 360,149 300,149 C260,140 245,80 253,28 Z"/>
<path d="M469,107 C560,90 680,110 774,120 L774,342 C700,350 620,330 560,300 C500,270 470,200 469,107 Z"/>
</g>
<rect x="0" y="381" width="398" height="400" fill="#30102a"/>
<rect x="0" y="381" width="398" height="400" fill="#5a40c0" filter="url(#nL2)"/>
<rect x="0" y="381" width="398" height="400" fill="#e02040" opacity="0.4"/>
<path d="M0,385 L394,385 L394,781" fill="none" stroke="#fff" stroke-width="8"/>
</svg>
<g fill="#fff">
<rect x="292" y="3019" width="49" height="23"/><rect x="625" y="3019" width="124" height="23"/>
<rect x="1103" y="3019" width="49" height="23"/><rect x="1436" y="3019" width="124" height="23"/>
<rect x="1914" y="3019" width="49" height="23"/><rect x="2247" y="3019" width="124" height="23"/>
<rect x="2725" y="3019" width="49" height="23"/><rect x="3058" y="3019" width="124" height="23"/>
<rect x="3534" y="3019" width="49" height="23"/><rect x="3867" y="3019" width="124" height="23"/>
</g>
<g font-size="43" text-anchor="middle">
<text x="307" y="3094" textLength="119" lengthAdjust="spacingAndGlyphs" style="fill:#fff;font-family:'Liberation Sans',sans-serif">20 µm</text>
<text x="679" y="3094" textLength="150" lengthAdjust="spacingAndGlyphs" style="fill:#fff;font-family:'Liberation Sans',sans-serif">100 µm</text>
<text x="1118" y="3094" textLength="119" lengthAdjust="spacingAndGlyphs" style="fill:#fff;font-family:'Liberation Sans',sans-serif">20 µm</text>
<text x="1490" y="3094" textLength="150" lengthAdjust="spacingAndGlyphs" style="fill:#fff;font-family:'Liberation Sans',sans-serif">100 µm</text>
<text x="1929" y="3094" textLength="119" lengthAdjust="spacingAndGlyphs" style="fill:#fff;font-family:'Liberation Sans',sans-serif">20 µm</text>
<text x="2301" y="3094" textLength="150" lengthAdjust="spacingAndGlyphs" style="fill:#fff;font-family:'Liberation Sans',sans-serif">100 µm</text>
<text x="2740" y="3094" textLength="119" lengthAdjust="spacingAndGlyphs" style="fill:#fff;font-family:'Liberation Sans',sans-serif">20 µm</text>
<text x="3112" y="3094" textLength="150" lengthAdjust="spacingAndGlyphs" style="fill:#fff;font-family:'Liberation Sans',sans-serif">100 µm</text>
<text x="3549" y="3094" textLength="119" lengthAdjust="spacingAndGlyphs" style="fill:#fff;font-family:'Liberation Sans',sans-serif">20 µm</text>
<text x="3921" y="3094" textLength="150" lengthAdjust="spacingAndGlyphs" style="fill:#fff;font-family:'Liberation Sans',sans-serif">100 µm</text>
</g>
<g font-size="66" text-anchor="middle">
<text x="2024" y="3230" textLength="1994" lengthAdjust="spacingAndGlyphs">(b) 递送Cas9mRNA到达不同器官组织切片的共聚焦显微镜成像图</text>
<text x="2070" y="3307" textLength="2083" lengthAdjust="spacingAndGlyphs">(b) Confocal microscopy imaging of delivered Cas9mRNA to different organs</text>
</g>

<!-- ================= PART (c) ================= -->
<g>
<line x1="388" y1="3479" x2="1326" y2="3479" stroke="#666" stroke-width="3"/>
<line x1="1326" y1="3479" x2="1326" y2="4394" stroke="#666" stroke-width="3"/>
<line x1="388" y1="3479" x2="388" y2="4012" stroke="#333" stroke-width="4"/>
<line x1="388" y1="4050" x2="388" y2="4394" stroke="#333" stroke-width="4"/>
<line x1="386" y1="4394" x2="1326" y2="4394" stroke="#333" stroke-width="4"/>
<line x1="380" y1="4000" x2="402" y2="4024" stroke="#333" stroke-width="3"/>
<line x1="380" y1="4038" x2="402" y2="4062" stroke="#333" stroke-width="3"/>
<g stroke="#333" stroke-width="3">
<line x1="388" y1="3495" x2="406" y2="3495"/><line x1="388" y1="3665" x2="406" y2="3665"/><line x1="388" y1="3836" x2="406" y2="3836"/><line x1="388" y1="4219" x2="406" y2="4219"/>
<line x1="520" y1="4380" x2="520" y2="4394"/><line x1="649" y1="4380" x2="649" y2="4394"/><line x1="780" y1="4380" x2="780" y2="4394"/><line x1="911" y1="4380" x2="911" y2="4394"/><line x1="1040" y1="4380" x2="1040" y2="4394"/><line x1="1172" y1="4380" x2="1172" y2="4394"/><line x1="1302" y1="4380" x2="1302" y2="4394"/>
</g>
<g font-size="66" text-anchor="end">
<text x="366" y="3517">3.0×10<tspan font-size="42" dy="-26">6</tspan></text>
<text x="366" y="3687">2.0×10<tspan font-size="42" dy="-26">6</tspan></text>
<text x="366" y="3858">1.0×10<tspan font-size="42" dy="-26">6</tspan></text>
<text x="366" y="4046">8.0×10<tspan font-size="42" dy="-26">3</tspan></text>
<text x="366" y="4241">4.0×10<tspan font-size="42" dy="-26">3</tspan></text>
</g>
<g font-size="66" text-anchor="middle">
<text x="350" y="4466">0</text><text x="520" y="4466">1.5</text><text x="649" y="4466">6</text><text x="780" y="4466">24</text><text x="911" y="4466">48</text><text x="1040" y="4466">72</text><text x="1172" y="4466">120</text><text x="1304" y="4466">168</text>
<text x="862" y="4539">Time/h</text>
<text transform="translate(130,3918) rotate(-90)" textLength="394" lengthAdjust="spacingAndGlyphs">hEPO/(pg/mL)</text>
<text x="830" y="4155">20% DODAP SORT LNPs</text>
<text x="807" y="4232">0.3 mg/kg</text>
</g>
<polyline points="388,4394 518,3619 649,3511 780,3632 911,3855 1040,3980 1172,4079 1304,4091" fill="none" stroke="#d42a2a" stroke-width="5"/>
<g stroke="#111" stroke-width="3">
<path d="M518,3578 V3660 M508,3578 H528 M508,3660 H528"/>
<path d="M649,3497 V3526 M639,3497 H659 M639,3526 H659"/>
<path d="M780,3616 V3648 M770,3616 H790 M770,3648 H790"/>
<path d="M911,3833 V3876 M901,3833 H921 M901,3876 H921"/>
<path d="M1172,4062 V4094 M1162,4062 H1182 M1162,4094 H1182"/>
</g>
<g fill="#111"><circle cx="388" cy="4394" r="11"/><circle cx="518" cy="3619" r="11"/><circle cx="649" cy="3511" r="11"/><circle cx="780" cy="3632" r="11"/><circle cx="911" cy="3855" r="11"/><circle cx="1040" cy="3980" r="11"/><circle cx="1172" cy="4079" r="11"/><circle cx="1304" cy="4091" r="11"/></g>
</g>
<g font-size="66" text-anchor="middle">
<text x="815" y="4858" textLength="888" lengthAdjust="spacingAndGlyphs">(c) 血清中的人促红细胞生成素</text>
<text x="808" y="4935" textLength="742" lengthAdjust="spacingAndGlyphs">(c) Determination of human</text>
<text x="817" y="5008" textLength="625" lengthAdjust="spacingAndGlyphs">erythropoietin in serum</text>
</g>

<!-- ================= PART (d) ================= -->
<g>
<rect x="1763" y="4347" width="72" height="43" fill="#cde8c6"/>
<rect x="1843" y="4235" width="72" height="155" fill="#a3d393"/>
<rect x="1921" y="3915" width="76" height="475" fill="#4caf46"/>
<rect x="2075" y="4331" width="71" height="59" fill="#b9b6e0"/>
<rect x="2153" y="4214" width="72" height="176" fill="#8f8acb"/>
<rect x="2233" y="3666" width="72" height="724" fill="#5c5ba3"/>
<rect x="2225" y="3761" width="90" height="38" fill="#fff"/>
<rect x="2382" y="4361" width="73" height="29" fill="#d5d3d3"/>
<rect x="2462" y="4330" width="72" height="60" fill="#a9a6a6"/>
<rect x="2542" y="3979" width="71" height="411" fill="#8a8585"/>
<line x1="1746" y1="3418" x2="2632" y2="3418" stroke="#555" stroke-width="3"/>
<line x1="2632" y1="3418" x2="2632" y2="4390" stroke="#555" stroke-width="3"/>
<line x1="1746" y1="3418" x2="1746" y2="3760" stroke="#333" stroke-width="4"/>
<line x1="1746" y1="3797" x2="1746" y2="4390" stroke="#333" stroke-width="4"/>
<line x1="1744" y1="4390" x2="2632" y2="4390" stroke="#333" stroke-width="4"/>
<line x1="1738" y1="3775" x2="1756" y2="3748" stroke="#333" stroke-width="3"/>
<line x1="1738" y1="3810" x2="1756" y2="3783" stroke="#333" stroke-width="3"/>
<g stroke="#333" stroke-width="3">
<line x1="1746" y1="3508" x2="1760" y2="3508"/><line x1="1746" y1="3675" x2="1760" y2="3675"/><line x1="1746" y1="3892" x2="1760" y2="3892"/><line x1="1746" y1="4017" x2="1760" y2="4017"/><line x1="1746" y1="4142" x2="1760" y2="4142"/><line x1="1746" y1="4267" x2="1760" y2="4267"/>
</g>
<g font-size="66" text-anchor="end">
<text x="1725" y="3530">8.0×10<tspan font-size="42" dy="-26">4</tspan></text>
<text x="1725" y="3697">4.0×10<tspan font-size="42" dy="-26">4</tspan></text>
<text x="1725" y="3914">1.6×10<tspan font-size="42" dy="-26">4</tspan></text>
<text x="1725" y="4039">1.2×10<tspan font-size="42" dy="-26">4</tspan></text>
<text x="1725" y="4164">8.0×10<tspan font-size="42" dy="-26">4</tspan></text>
<text x="1725" y="4289">4.0×10<tspan font-size="42" dy="-26">4</tspan></text>
<text x="1722" y="4412">0</text>
</g>
<text transform="translate(1478,3946) rotate(-90)" font-size="66" text-anchor="middle" textLength="392" lengthAdjust="spacingAndGlyphs">IL-10/(pg/mL)</text>
<g stroke="#111" stroke-width="3.5">
<path d="M1879,4225 V4245 M1867,4225 H1891 M1867,4245 H1891"/>
<path d="M1959,3864 V3965 M1945,3864 H1973 M1945,3965 H1973"/>
<path d="M2111,4318 V4348 M2099,4318 H2123 M2099,4348 H2123"/>
<path d="M2189,4166 V4258 M2175,4166 H2203 M2175,4258 H2203"/>
<path d="M2269,3630 V3702 M2255,3630 H2283 M2255,3702 H2283"/>
<path d="M2498,4328 V4336 M2486,4328 H2510"/>
<path d="M2577,3902 V4056 M2563,3902 H2591 M2563,4056 H2591"/>
</g>
<g fill="#fff" stroke="#111" stroke-width="3">
<circle cx="1771" cy="4352" r="8"/><circle cx="1797" cy="4342" r="8"/><circle cx="1826" cy="4342" r="8"/>
<circle cx="2091" cy="4321" r="8"/><circle cx="2125" cy="4321" r="8"/><circle cx="2108" cy="4357" r="8"/>
<circle cx="2390" cy="4367" r="8"/><circle cx="2416" cy="4360" r="8"/><circle cx="2445" cy="4365" r="8"/>
<rect x="1849" y="4211" width="14" height="14"/><rect x="1836" y="4244" width="14" height="14"/><rect x="1870" y="4244" width="14" height="14"/><rect x="1891" y="4244" width="14" height="14"/>
<rect x="2181" y="4146" width="14" height="14"/><rect x="2181" y="4171" width="14" height="14"/><rect x="2181" y="4295" width="14" height="14"/>
<rect x="2463" y="4333" width="14" height="14"/><rect x="2489" y="4322" width="14" height="14"/><rect x="2514" y="4333" width="14" height="14"/>
<path d="M1957,3808 l7,13 h-14 z"/><path d="M1953,3934 l7,13 h-14 z"/><path d="M1957,3978 l7,13 h-14 z"/>
<path d="M2264,3591 l7,13 h-14 z"/><path d="M2266,3675 l7,13 h-14 z"/><path d="M2266,3717 l7,13 h-14 z"/>
<path d="M2557,3887 l7,13 h-14 z"/><path d="M2590,3901 l7,13 h-14 z"/><path d="M2577,4126 l7,13 h-14 z"/>
</g>
<path d="M2271,3551 V3523 H2576 V3551" fill="none" stroke="#111" stroke-width="3.5"/>
<text x="2421" y="3528" font-size="54" text-anchor="middle">*</text>
<text x="2430" y="3473" font-size="66" text-anchor="middle"><tspan font-style="italic">P</tspan>=0.0338</text>
<g fill="#fff" stroke="#111" stroke-width="3">
<circle cx="1809" cy="3516" r="7"/><rect x="1802" y="3578" width="14" height="14"/><path d="M1809,3646 l7,13 h-14 z"/>
</g>
<g font-size="66">
<text x="1839" y="3538">0.01 mg/kg</text>
<text x="1839" y="3607">0.03 mg/kg</text>
<text x="1839" y="3675">0.1 mg/kg</text>
<text x="1801" y="3740">IL-10 mRNA</text>
</g>
<g font-size="68" text-anchor="middle">
<text transform="translate(1814,4545) rotate(-42)" dy="22">30% 18PA</text>
<text transform="translate(1880,4578) rotate(-42)" dy="22">SORT LNPs</text>
<text transform="translate(2087,4556) rotate(-42)" dy="22">20% DODAP</text>
<text transform="translate(2128,4616) rotate(-42)" dy="22">SORT LNPs</text>
<text transform="translate(2399,4523) rotate(-42)" dy="22">MC3 LNPs</text>
</g>
</g>
<g font-size="66" text-anchor="middle">
<text x="2030" y="4858" textLength="563" lengthAdjust="spacingAndGlyphs">(d) 血清中的白介素</text>
<text x="2032" y="4935" textLength="1127" lengthAdjust="spacingAndGlyphs">(d) Determination of interleukins in serum</text>
</g>

<!-- ================= PART (e) ================= -->
<g font-size="66" text-anchor="middle">
<text x="3815" y="3506" textLength="327" lengthAdjust="spacingAndGlyphs">SORT LNPs</text>
<text x="2910" y="3633" textLength="336" lengthAdjust="spacingAndGlyphs">Cas9 mRNA</text>
<text x="2920" y="3768" textLength="222" lengthAdjust="spacingAndGlyphs">sgRNAs</text>
<text x="2935" y="3980" textLength="336" lengthAdjust="spacingAndGlyphs">Cas9 protein</text>
<text x="3381" y="3980" textLength="155" lengthAdjust="spacingAndGlyphs">RNPs</text>
<text x="3819" y="3980" textLength="329" lengthAdjust="spacingAndGlyphs">SORT LNPs</text>
<text x="2924" y="4366" textLength="223" lengthAdjust="spacingAndGlyphs">sgRNAs</text>
</g>
<path d="M3135,3640 C3160,3625 3170,3650 3190,3635 C3200,3600 3230,3595 3250,3610 C3260,3630 3230,3650 3240,3660 C3260,3670 3290,3650 3280,3630 C3270,3610 3300,3600 3320,3615 C3335,3630 3300,3650 3330,3650 C3350,3648 3340,3620 3370,3615 C3400,3612 3400,3640 3380,3635 L3430,3635" fill="none" stroke="#222" stroke-width="6"/>
<path d="M3135,3717 L3355,3715 C3380,3716 3382,3742 3355,3744 L3265,3744 C3250,3746 3252,3765 3268,3770 L3320,3788" fill="none" stroke="#2a3a7a" stroke-width="5"/>
<g font-size="30">
<text x="3105" y="3648" style="font-family:'Liberation Sans',sans-serif">5′</text><text x="3436" y="3645" style="font-family:'Liberation Sans',sans-serif">3′</text>
<text x="3105" y="3726" style="font-family:'Liberation Sans',sans-serif">5′</text><text x="3318" y="3808" style="font-family:'Liberation Sans',sans-serif">3′</text>
<text x="2775" y="4225" style="font-family:'Liberation Sans',sans-serif">5′</text><text x="2978" y="4302" style="font-family:'Liberation Sans',sans-serif">3′</text>
<text x="3224" y="4175" style="font-family:'Liberation Sans',sans-serif">5′</text><text x="3428" y="4238" style="font-family:'Liberation Sans',sans-serif">3′</text>
</g>
<polygon points="3472,3671 3572,3671 3572,3654 3606,3682 3572,3710 3572,3693 3472,3693" fill="#111"/>
<g transform="translate(3824,3711) scale(0.82)">
<circle r="158" fill="#dccfe2"/>
<use href="#eShell"/>
<use href="#eCl" transform="translate(-55,-48)"/><use href="#eCl" transform="translate(55,-48)"/><use href="#eCl" transform="translate(-55,50)"/><use href="#eCl" transform="translate(55,50)"/>
</g>
<path d="M2935,4093 L2986.6,4056.9 A63,63 0 1,0 2986.6,4129.1 Z" fill="#b8ae8c" stroke="#3a4868" stroke-width="3"/>
<path d="M2790,4213 L3010,4210 C3030,4210 3032,4232 3010,4233 L2920,4233 C2905,4236 2908,4252 2925,4258 L2975,4277" fill="none" stroke="#2a3a7a" stroke-width="5"/>
<path d="M3057,4101 L3092,4101 Q3112,4150 3150,4150 L3162,4128 L3203,4170 L3162,4212 L3150,4190 Q3112,4190 3092,4240 L3057,4240 Q3090,4185 3122,4170 Q3090,4155 3057,4101 Z" fill="#d4d4d4"/>
<path d="M3380,4152 L3452.4,4132.6 A75,75 0 1,0 3433,4205 Z" fill="#b5ad8f"/>
<path d="M3240,4165 L3440,4140 C3465,4137 3468,4160 3445,4163 L3400,4168 C3385,4172 3390,4190 3405,4195 L3440,4210" fill="none" stroke="#2a3a7a" stroke-width="5"/>
<polygon points="3489,4153 3583,4153 3583,4136 3617,4164 3583,4192 3583,4175 3489,4175" fill="#111"/>
<g transform="translate(3805,4185) scale(0.82)">
<circle r="158" fill="#f7c6a2"/>
<use href="#eShell"/>
<use href="#eCl" transform="translate(-55,-48)"/><use href="#eCl" transform="translate(55,-48)"/><use href="#eCl" transform="translate(-55,50)"/><use href="#eCl" transform="translate(55,50)"/>
</g>
<g font-size="66" text-anchor="middle">
<text x="3354" y="4858" textLength="1278" lengthAdjust="spacingAndGlyphs">(e) Cas9mRNA与Cas9核糖体递送体系示意图</text>
<text x="3348" y="4935" textLength="1272" lengthAdjust="spacingAndGlyphs">(e) Schematic diagram of Cas9mRNA and Cas9</text>
<text x="3353" y="5008" textLength="702" lengthAdjust="spacingAndGlyphs">ribosomal delivery system</text>
</g>
</svg>
</body></html>
